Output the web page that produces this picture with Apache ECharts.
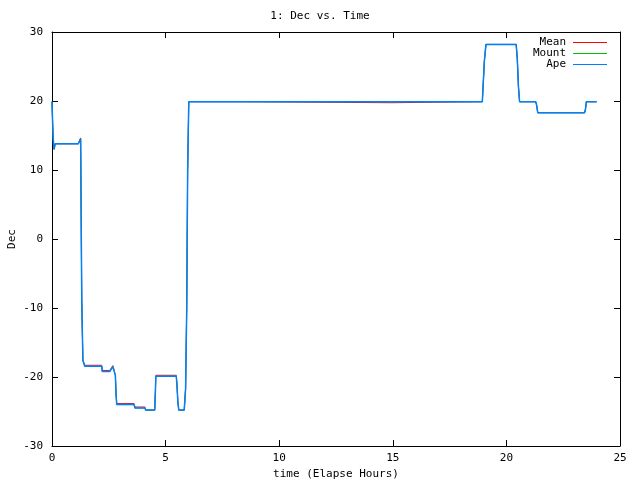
<!DOCTYPE html>
<html>
<head>
<meta charset="utf-8">
<script src="https://cdn.jsdelivr.net/npm/echarts@6/dist/echarts.min.js"></script>
<style>html,body{margin:0;padding:0;background:#fff}#c{width:640px;height:480px}</style>
</head>
<body>
<div id="c"></div>
<script>
const titleText = '1: Dec vs. Time';
const xName = 'time (Elapse Hours)';
const yName = 'Dec';
const seriesNames = ['Mean', 'Mount', 'Ape'];
const xTicks = { min: 0, max: 25, interval: 5 };
const yTicks = { min: -30, max: 30, interval: 10 };

// [elapsed hours, Dec]
const ape = [
  [0.00, 19.9], [0.02, 17.6], [0.05, 14.7], [0.09, 13.0], [0.14, 13.8], [1.16, 13.8],
  [1.20, 14.1], [1.26, 14.5], [1.30, 14.5], [1.31, -9.0], [1.36, -17.6], [1.44, -18.45],
  [2.19, -18.45], [2.21, -19.2], [2.55, -19.2], [2.62, -18.8], [2.68, -18.5], [2.75, -18.5],
  [2.79, -19.8], [2.82, -22.6], [2.85, -24.0], [3.61, -24.0], [3.65, -24.5], [4.09, -24.5],
  [4.12, -24.8], [4.52, -24.8], [4.55, -22.2], [4.57, -19.9], [5.47, -19.9], [5.50, -21.2],
  [5.54, -23.6], [5.58, -24.8], [5.82, -24.8], [5.88, -21.7], [5.93, -10.0], [5.97, 9.8],
  [6.02, 19.9], [18.94, 19.9], [18.97, 21.8], [19.03, 25.8], [19.10, 28.2], [20.43, 28.2],
  [20.48, 26.1], [20.53, 22.1], [20.58, 19.9], [21.29, 19.9], [21.33, 19.4], [21.38, 18.3],
  [23.44, 18.3], [23.48, 18.8], [23.52, 19.9], [23.97, 19.9]
];
const mount = [
  [0.00, 19.9], [0.02, 17.6], [0.05, 14.7], [0.09, 13.0], [0.14, 13.8], [1.16, 13.8],
  [1.20, 14.1], [1.26, 14.5], [1.30, 14.5], [1.31, -9.0], [1.36, -17.6], [1.44, -18.45],
  [2.19, -18.45], [2.21, -19.2], [2.55, -19.2], [2.62, -18.8], [2.68, -18.5], [2.75, -18.5],
  [2.79, -19.8], [2.82, -22.6], [2.85, -24.0], [3.61, -24.0], [3.65, -24.5], [4.09, -24.5],
  [4.12, -24.8], [4.52, -24.8], [4.55, -22.2], [4.57, -19.9], [5.47, -19.9], [5.50, -21.2],
  [5.54, -23.6], [5.58, -24.8], [5.82, -24.8], [5.88, -21.7], [5.93, -10.0], [5.97, 9.8],
  [6.02, 19.9], [18.94, 19.9], [18.97, 21.8], [19.03, 25.8], [19.10, 28.2], [20.43, 28.2],
  [20.48, 26.1], [20.53, 22.1], [20.58, 19.9], [21.29, 19.9], [21.33, 19.4], [21.38, 18.3],
  [23.44, 18.3], [23.48, 18.8], [23.52, 19.9], [23.97, 19.9]
];
const mean = [
  [0.00, 19.9], [0.02, 17.6], [0.05, 14.7], [0.09, 13.0], [0.14, 13.8], [1.16, 13.8],
  [1.20, 14.2], [1.26, 14.65], [1.30, 14.6], [1.31, -9.0], [1.36, -17.5], [1.44, -18.3],
  [2.19, -18.3], [2.21, -19.05], [2.55, -19.05], [2.62, -18.65], [2.68, -18.35], [2.75, -18.4],
  [2.79, -19.7], [2.82, -22.5], [2.85, -23.85], [3.61, -23.85], [3.65, -24.35], [4.09, -24.35],
  [4.12, -24.8], [4.52, -24.8], [4.55, -22.1], [4.57, -19.75], [5.47, -19.75], [5.50, -21.0],
  [5.54, -23.6], [5.58, -24.8], [5.82, -24.8], [5.88, -21.7], [5.93, -10.0], [5.97, 9.8],
  [6.02, 19.9], [8.27, 19.9], [8.28, 19.75], [14.95, 19.75], [14.96, 19.9], [18.94, 19.9],
  [18.97, 21.8], [19.03, 25.8], [19.10, 28.2], [20.43, 28.2], [20.48, 26.1], [20.53, 22.1],
  [20.58, 19.9], [21.29, 19.9], [21.33, 19.4], [21.38, 18.3], [23.44, 18.3], [23.48, 18.8],
  [23.52, 19.9], [23.97, 19.9]
];
const colors = ['#ff0000', '#00c000', '#0080ff'];

const font = 'DejaVu Sans Mono';
const txt = { fontFamily: font, fontSize: 11, color: '#000' };
const axisLine = { show: true, onZero: false, lineStyle: { color: '#000', width: 1 } };
const tick = { show: true, inside: true, length: 6, lineStyle: { color: '#000', width: 1 } };

const chart = echarts.init(document.getElementById('c'), null, { renderer: 'canvas' });
chart.setOption({
  animation: false,
  backgroundColor: '#fff',
  title: { text: titleText, left: 'center', top: 6, textStyle: Object.assign({ fontWeight: 'normal' }, txt) },
  grid: { left: 52, right: 20, top: 32, bottom: 34, containLabel: false, outerBoundsMode: 'none' },
  legend: {
    orient: 'vertical', right: 33, top: 37, align: 'right', padding: 0, itemGap: 0,
    itemWidth: 34, itemHeight: 11, icon: 'path://M0,5 L34,5 L34,6 L0,6 Z',
    textStyle: Object.assign({ lineHeight: 11, padding: [0, 2, 0, 0] }, txt),
    data: seriesNames
  },
  graphic: [{
    type: 'text', x: 12, y: 239, rotation: Math.PI / 2,
    style: { text: yName, font: '11px "DejaVu Sans Mono"', fill: '#000', align: 'center', verticalAlign: 'middle' }
  }],
  xAxis: [
    Object.assign({ type: 'value', position: 'bottom', name: xName, nameLocation: 'middle', nameGap: 22,
      nameTextStyle: txt, axisLine, axisTick: tick, splitLine: { show: false },
      axisLabel: Object.assign({ margin: 7 }, txt) }, xTicks),
    Object.assign({ type: 'value', position: 'top', axisLine, axisTick: tick, splitLine: { show: false },
      axisLabel: { show: false } }, xTicks)
  ],
  yAxis: [
    Object.assign({ type: 'value', position: 'left', axisLine, axisTick: tick, splitLine: { show: false },
      axisLabel: Object.assign({ margin: 9 }, txt) }, yTicks),
    Object.assign({ type: 'value', position: 'right', axisLine, axisTick: tick, splitLine: { show: false },
      axisLabel: { show: false } }, yTicks)
  ],
  series: [
    { name: seriesNames[0], type: 'line', data: mean, showSymbol: false, symbol: 'none',
      lineStyle: { color: colors[0], width: 1 }, itemStyle: { color: colors[0] } },
    { name: seriesNames[1], type: 'line', data: mount, showSymbol: false, symbol: 'none',
      lineStyle: { color: colors[1], width: 0.8 }, itemStyle: { color: colors[1] } },
    { name: seriesNames[2], type: 'line', data: ape, showSymbol: false, symbol: 'none',
      lineStyle: { color: colors[2], width: 1.5 }, itemStyle: { color: colors[2] } }
  ]
});
</script>
</body>
</html>
